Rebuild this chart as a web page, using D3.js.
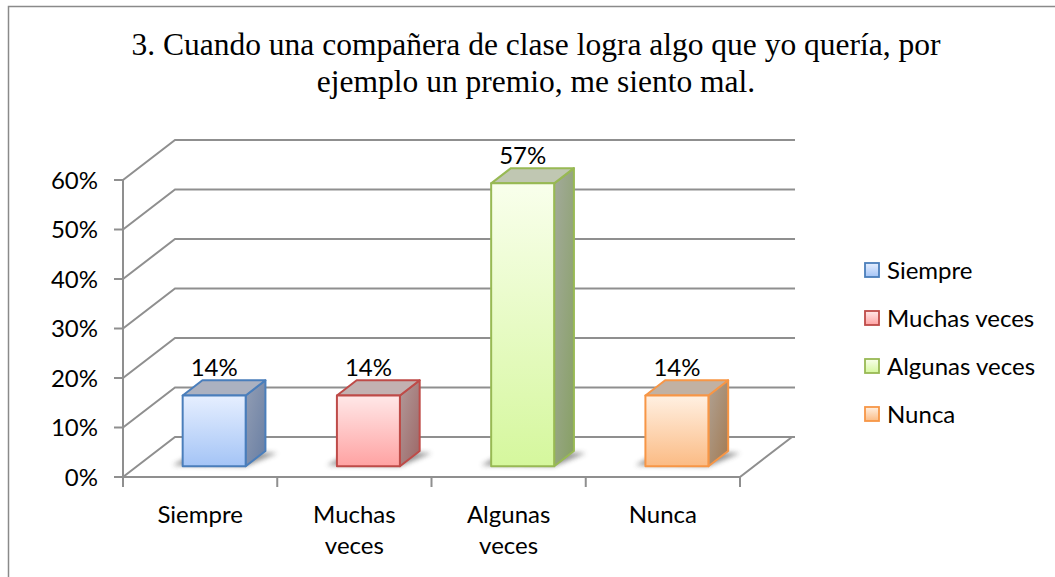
<!DOCTYPE html>
<html>
<head>
<meta charset="utf-8">
<script src="https://cdn.jsdelivr.net/npm/d3@7"></script>
<style>
  html, body { margin: 0; padding: 0; background: #fff; }
  svg { display: block; }
  .serif { font-family: "Liberation Serif", "DejaVu Serif", serif; }
</style>
</head>
<body>
<svg id="chart" width="1055" height="577"></svg>
<script>
// ---- data ----
const titleLines = ["3. Cuando una compañera de clase logra algo que yo quería, por", "ejemplo un premio, me siento mal."];
const categories = ["Siempre", "Muchas veces", "Algunas veces", "Nunca"];
const values = [0.1429, 0.1429, 0.5714, 0.1429];
const yTicks = [0, 0.1, 0.2, 0.3, 0.4, 0.5, 0.6];

// ---- styles ----
const palette = [
  { border: "#4a7ebb", f0: "#e6efff", f1: "#a4c4f6", s0: "#939eb4", s1: "#687ea3", top: "#abb1c0" },
  { border: "#be4b48", f0: "#ffe8e8", f1: "#ffa2a2", s0: "#b29a9a", s1: "#9c6766", top: "#c2b1b1" },
  { border: "#98b954", f0: "#f9ffec", f1: "#d5f79d", s0: "#a3aa9b", s1: "#87a064", top: "#c0c7b2" },
  { border: "#f79646", f0: "#fff0e2", f1: "#fbbb84", s0: "#b0a294", s1: "#a27a52", top: "#c1b1a3" }
];
const gridColor = "#8f8f8f";
const sansFont = "Lato, 'Liberation Sans', sans-serif";
const fs = 24;

const svg = d3.select("#chart");

// ---- geometry ----
const plotLeft = 123, plotRight = 740;
const DX = 52, DY = -40;              // oblique depth vector (full floor depth)
const dFront = 0.27, dBack = 0.65;   // bar depth placement

const y = d3.scaleLinear().domain([0, 0.6]).range([477, 180]);
const xCat = d3.scaleBand().domain(categories).range([plotLeft, plotRight]);
const xBar = d3.scaleBand().domain(categories).range([plotLeft, plotRight])
  .paddingInner(0.5916).paddingOuter(0.2958);

const P = (x, yy, d) => [x + DX * d, yy + DY * d];

// ---- outer frame ----
svg.append("path")
  .attr("d", "M8.5,600 L8.5,6.5 L1060,6.5")
  .attr("fill", "none").attr("stroke", "#8a8a8a").attr("stroke-width", 1.5);

// ---- title ----
const title = svg.append("text")
  .attr("class", "serif")
  .attr("x", 536).attr("y", 55)
  .attr("text-anchor", "middle")
  .style("font-family", "'Liberation Serif', 'DejaVu Serif', serif")
  .style("font-size", "31.5px")
  .attr("fill", "#000");
title.selectAll("tspan")
  .data(titleLines)
  .join("tspan")
  .attr("x", 536)
  .attr("dy", (d, i) => i === 0 ? 0 : 37)
  .text(d => d);

// ---- defs ----
const defs = svg.append("defs");
palette.forEach((c, i) => {
  const gf = defs.append("linearGradient").attr("id", "front" + i)
    .attr("x1", 0).attr("y1", 0).attr("x2", 0).attr("y2", 1);
  gf.append("stop").attr("offset", "0%").attr("stop-color", c.f0);
  gf.append("stop").attr("offset", "100%").attr("stop-color", c.f1);
  const gs = defs.append("linearGradient").attr("id", "side" + i)
    .attr("x1", 0).attr("y1", 0).attr("x2", 1).attr("y2", 1);
  gs.append("stop").attr("offset", "0%").attr("stop-color", c.s0);
  gs.append("stop").attr("offset", "100%").attr("stop-color", c.s1);
});
defs.append("filter").attr("id", "blur")
  .attr("x", "-50%").attr("y", "-50%").attr("width", "200%").attr("height", "200%")
  .append("feGaussianBlur").attr("stdDeviation", 2.5);

// ---- walls / gridlines ----
const grid = svg.append("g").attr("fill", "none").attr("stroke", gridColor).attr("stroke-width", 2);
const line = d3.line();
grid.selectAll("path.gl")
  .data(yTicks)
  .join("path")
  .attr("class", "gl")
  .attr("d", v => line([P(plotLeft, y(v), 0), P(plotLeft, y(v), 1), P(plotRight + 3, y(v), 1)]));

// floor front and right edges
grid.append("path")
  .attr("d", line([P(plotLeft, y(0), 0), P(plotRight, y(0), 0), P(plotRight, y(0), 1)]));

// left axis line
grid.append("path")
  .attr("d", line([[plotLeft, y(0.6)], [plotLeft, y(0) + 9]]));

// y tick marks
grid.selectAll("path.yt")
  .data(yTicks)
  .join("path")
  .attr("class", "yt")
  .attr("d", v => line([[plotLeft - 9, y(v)], [plotLeft, y(v)]]));

// category tick marks
const catEdges = categories.map(c => xCat(c)).concat([plotRight]);
grid.selectAll("path.xt")
  .data(catEdges)
  .join("path")
  .attr("class", "xt")
  .attr("d", x => line([[x, y(0)], [x, y(0) + 10]]));

// y tick labels
svg.append("g")
  .selectAll("text")
  .data(yTicks)
  .join("text")
  .attr("x", 98)
  .attr("y", v => y(v))
  .attr("dy", "0.36em")
  .attr("text-anchor", "end")
  .attr("font-family", sansFont)
  .attr("font-size", fs)
  .attr("fill", "#000")
  .text(d3.format(".0%"));

// category labels
const catG = svg.append("g")
  .attr("font-family", sansFont)
  .attr("font-size", fs)
  .attr("fill", "#000")
  .attr("text-anchor", "middle");
categories.forEach(c => {
  const words = c.split(" ");
  const t = catG.append("text")
    .attr("x", xCat(c) + xCat.bandwidth() / 2)
    .attr("y", 523);
  words.forEach((w, i) => {
    t.append("tspan")
      .attr("x", xCat(c) + xCat.bandwidth() / 2)
      .attr("dy", i === 0 ? 0 : 31)
      .text(w);
  });
});

// ---- bars ----
const bars = svg.append("g");
categories.forEach((c, i) => {
  const v = values[i];
  const x0 = xBar(c), x1 = x0 + xBar.bandwidth();
  const yb = y(0), yt = y(v);
  const col = palette[i];
  const g = bars.append("g");

  // shadow on the floor
  const fl = P(x0, yb, dFront), fr = P(x1, yb, dFront), br = P(x1, yb, dBack), bl = P(x0, yb, dBack);
  g.append("path")
    .attr("d", line([[fl[0] - 10, fl[1] - 1], [fr[0], fr[1]], [br[0] + 12, br[1] + 2], [bl[0] - 4, bl[1]]]) + "Z")
    .attr("fill", "#3a3a3a").attr("opacity", 0.55)
    .attr("filter", "url(#blur)");

  const common = sel => sel.attr("stroke", col.border).attr("stroke-width", 2).attr("stroke-linejoin", "round");
  // side
  g.append("path")
    .attr("d", line([P(x1, yt, dFront), P(x1, yt, dBack), P(x1, yb, dBack), P(x1, yb, dFront)]) + "Z")
    .attr("fill", `url(#side${i})`).call(common);
  // top
  g.append("path")
    .attr("d", line([P(x0, yt, dFront), P(x0, yt, dBack), P(x1, yt, dBack), P(x1, yt, dFront)]) + "Z")
    .attr("fill", col.top).call(common);
  // front
  g.append("path")
    .attr("d", line([P(x0, yt, dFront), P(x1, yt, dFront), P(x1, yb, dFront), P(x0, yb, dFront)]) + "Z")
    .attr("fill", `url(#front${i})`).call(common);

  // value label
  g.append("text")
    .attr("x", (x0 + x1) / 2 + DX * dFront)
    .attr("y", P(x1, yt, dBack)[1] - 4)
    .attr("text-anchor", "middle")
    .attr("font-family", sansFont)
    .attr("font-size", fs)
    .attr("fill", "#000")
    .text(d3.format(".0%")(v));
});

// ---- legend ----
const legend = svg.append("g").attr("font-family", sansFont).attr("font-size", fs).attr("fill", "#000");
const legY = d3.scalePoint().domain(categories).range([270, 414]);
categories.forEach((c, i) => {
  const yy = legY(c);
  legend.append("rect")
    .attr("x", 865).attr("y", yy - 7)
    .attr("width", 14).attr("height", 14)
    .attr("fill", `url(#front${i})`)
    .attr("stroke", palette[i].border).attr("stroke-width", 1.8);
  legend.append("text")
    .attr("x", 887).attr("y", yy)
    .attr("dy", "0.36em")
    .text(c);
});
</script>
</body>
</html>
